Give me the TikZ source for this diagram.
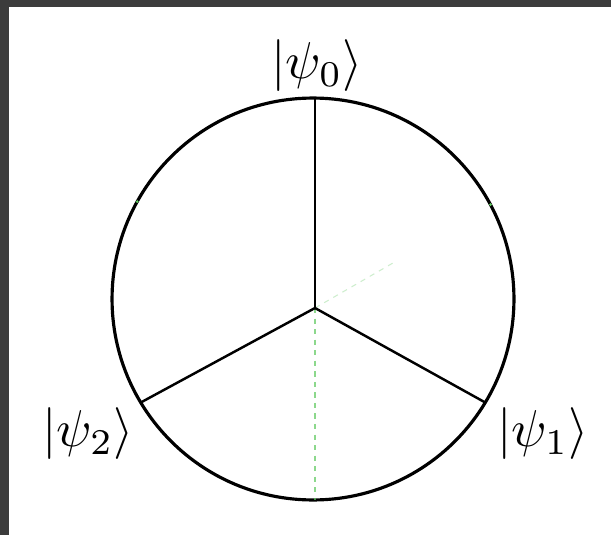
\documentclass[tikz,border=0pt]{standalone}
\usepackage{amsmath,amssymb}
\usepackage{xcolor}
\usepackage{tikz}
\usetikzlibrary{positioning,calc}

\definecolor{framegray}{HTML}{3C3C3C}
\definecolor{guidegreen}{HTML}{5CC85C}

\begin{document}
\begin{tikzpicture}[x=0.02cm, y=0.02cm,
    ket/.style={inner sep=0pt, scale=2.95},
    spoke/.style={line width=1.4pt},
    guide/.style={guidegreen, dashed, line width=0.6pt}]
    \useasboundingbox (0,0) rectangle (611,535);
    \fill[white] (0,0) rectangle (611,535);
    % frame of the screenshot
    \fill[framegray] (0,528) rectangle (611,535);
    \fill[framegray] (0,0) rectangle (9,535);

    \node[draw, circle, line width=1.8pt, minimum size=8.04cm, inner sep=0pt, outer sep=0pt] (ring) at (313,236) {};
    \coordinate (hub) at (315,227);
    \coordinate (tip) at ($(hub)+(30:90)$);

    % faint construction lines
    \draw[guide, opacity=0.7] (hub) -- (hub |- ring.south);
    \draw[guide, opacity=0.3] (hub) -- (tip);
    \fill[guidegreen] (ring.151) circle (1.5);
    \fill[guidegreen] (ring.28) circle (1.5);

    \draw[spoke] (hub) -- (hub |- ring.north);
    \draw[spoke] (hub) -- (ring.211.8);
    \draw[spoke] (hub) -- (ring.329.3);

    \node[ket] (psi0) at (317,469) {$|\psi_0\rangle$};
    \node[ket] (psi2) at (88,101) {$|\psi_2\rangle$};
    \node[ket] (psi1) at (543,101) {$|\psi_1\rangle$};
\end{tikzpicture}
\end{document}
